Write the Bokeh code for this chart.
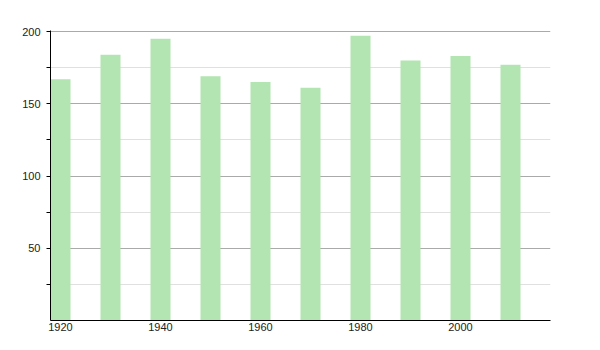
from bokeh.plotting import figure
from bokeh.models import FixedTicker, Range1d, ColumnDataSource
from bokeh.embed import file_html
from bokeh.resources import INLINE

years = [1920, 1930, 1940, 1950, 1960, 1970, 1980, 1990, 2000, 2010]
values = [167, 184, 195, 169, 165, 161, 197, 180, 183, 177]
y_ticks = [50, 100, 150, 200]
y_minor = [25, 75, 125, 175]
x_ticks = [1920, 1940, 1960, 1980, 2000]

src = ColumnDataSource(dict(x=years, top=values))

p = figure(width=600, height=350, output_backend="svg", toolbar_location=None,
           x_range=Range1d(1918, 2018), y_range=Range1d(0, 200.7),
           min_border_left=50, min_border_right=50, min_border_top=30, min_border_bottom=30)
p.frame_width = 500
p.frame_height = 290
p.outline_line_color = None
p.background_fill_color = "white"
p.border_fill_color = "white"

p.vbar(x="x", top="top", width=4, bottom=0, source=src, fill_color="#b2e5b2", line_color=None)

p.xgrid.grid_line_color = None
p.ygrid.ticker = FixedTicker(ticks=y_ticks, minor_ticks=y_minor)
p.ygrid.grid_line_color = "#aaaaaa"
p.ygrid.minor_grid_line_color = "#e0e0e0"
p.ygrid.level = "underlay"

p.yaxis.ticker = FixedTicker(ticks=y_ticks, minor_ticks=y_minor)
p.yaxis.axis_line_color = "black"
p.yaxis.major_tick_out = 4
p.yaxis.major_tick_in = 0
p.yaxis.minor_tick_out = 4
p.yaxis.minor_tick_in = 0
p.yaxis.major_label_text_font = "Liberation Sans"
p.yaxis.major_label_text_font_size = "11px"
p.yaxis.major_label_text_color = "#222222"
p.yaxis.major_label_standoff = 6

p.xaxis.ticker = FixedTicker(ticks=x_ticks, minor_ticks=[])
p.xaxis.axis_line_color = "black"
p.xaxis.major_tick_out = 0
p.xaxis.major_tick_in = 0
p.xaxis.minor_tick_out = 0
p.xaxis.major_label_text_font = "Liberation Sans"
p.xaxis.major_label_text_font_size = "11px"
p.xaxis.major_label_text_color = "#222222"
p.xaxis.major_label_standoff = 2

open("out.html", "w").write(file_html(p, INLINE))
